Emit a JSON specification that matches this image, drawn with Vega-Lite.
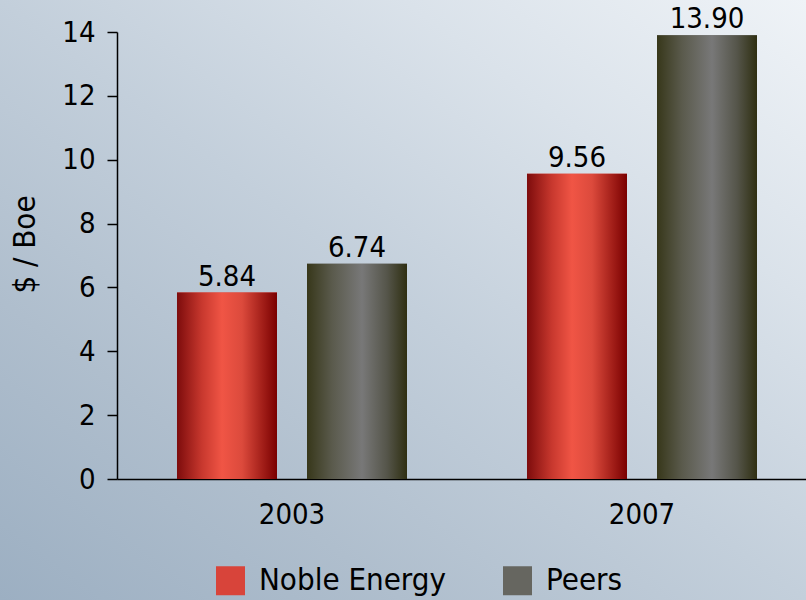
{
  "$schema": "https://vega.github.io/schema/vega-lite/v6.json",
  "autosize": {"type": "none"},
  "padding": 0,
  "width": 806,
  "height": 600,
  "background": "#c3ced9",
  "config": {
    "font": "DejaVu Sans Condensed",
    "view": {
      "stroke": null,
      "fill": {"gradient": "linear", "x1": 1, "y1": 0, "x2": 0, "y2": 1,
        "stops": [{"offset": 0, "color": "#eff3f7"}, {"offset": 0.25, "color": "#dae2ea"}, {"offset": 0.5, "color": "#c3cfdb"}, {"offset": 0.75, "color": "#afbecd"}, {"offset": 1, "color": "#9cafc2"}]}
    },
    "axis": {"grid": false, "domainColor": "#000000", "tickColor": "#000000", "labelColor": "#000000", "titleColor": "#000000", "labelFont": "DejaVu Sans Condensed", "titleFont": "DejaVu Sans Condensed"}
  },
  "data": {
    "values": [
      {"year": "2003", "series": "Noble Energy", "value": 5.84},
      {"year": "2003", "series": "Peers", "value": 6.74},
      {"year": "2007", "series": "Noble Energy", "value": 9.56},
      {"year": "2007", "series": "Peers", "value": 13.90}
    ]
  },
  "encoding": {
    "x": {
      "field": "year", "type": "nominal",
      "scale": {"paddingInner": 0, "paddingOuter": 0, "range": [117, 817]},
      "axis": {"title": null, "labelAngle": 0, "ticks": false, "labelFontSize": 29, "labelPadding": 21, "domainWidth": 1.5, "offset": -121}
    },
    "xOffset": {
      "field": "series", "type": "nominal",
      "scale": {"paddingInner": 0.2308, "paddingOuter": 0.4615}
    },
    "y": {
      "field": "value", "type": "quantitative",
      "scale": {"domain": [0, 14], "nice": false, "range": [479, 32]},
      "axis": {"title": "$ / Boe", "values": [0, 2, 4, 6, 8, 10, 12, 14], "tickSize": 10, "labelFontSize": 29, "labelPadding": 12, "titleFontSize": 31, "titleFontWeight": "normal", "titlePadding": 20, "titleY": 244, "domainWidth": 1.5, "tickWidth": 1.5, "offset": -117}
    }
  },
  "layer": [
    {
      "mark": {"type": "bar"},
      "encoding": {
        "color": {
          "field": "series", "type": "nominal",
          "scale": {"domain": ["Noble Energy", "Peers"], "range": ["#d8443a", "#666660"]},
          "legend": {
            "title": null, "orient": "none", "direction": "horizontal",
            "legendX": 215, "legendY": 565, "padding": 0,
            "symbolType": "square", "symbolSize": 841, "symbolStrokeWidth": 0,
            "labelFontSize": 31, "labelColor": "#000000", "labelOffset": 13, "labelLimit": 400,
            "columnPadding": 56, "labelFont": "DejaVu Sans Condensed"
          }
        }
      }
    },
    {
      "mark": {"type": "bar"},
      "encoding": {
        "fill": {
          "condition": {"test": "datum.series === 'Peers'", "value": {"gradient": "linear", "x1": 0, "y1": 0, "x2": 1, "y2": 0,
            "stops": [{"offset": 0, "color": "#37371a"}, {"offset": 0.25, "color": "#5a5a4c"}, {"offset": 0.55, "color": "#787878"}, {"offset": 0.8, "color": "#55554a"}, {"offset": 1, "color": "#2f2f12"}]}},
          "value": {"gradient": "linear", "x1": 0, "y1": 0, "x2": 1, "y2": 0,
            "stops": [{"offset": 0, "color": "#7d0c0c"}, {"offset": 0.25, "color": "#c8382e"}, {"offset": 0.45, "color": "#f05545"}, {"offset": 0.65, "color": "#dc4a3c"}, {"offset": 1, "color": "#7a0000"}]}
        }
      }
    },
    {
      "mark": {"type": "text", "baseline": "alphabetic", "dy": -7, "fontSize": 29, "color": "#000000"},
      "encoding": {
        "text": {"field": "value", "type": "quantitative", "format": ".2f"}
      }
    }
  ]
}
